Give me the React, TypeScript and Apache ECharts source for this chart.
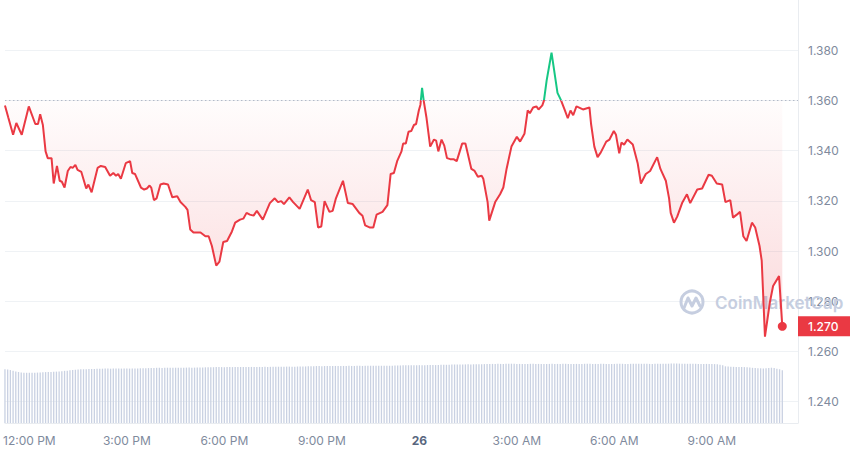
import React, { useEffect, useRef } from "react";
import * as echarts from "echarts";

// minutes since 00:00 on the 25th
const priceTimes: number[] = [
  675, 681, 690, 696, 706, 719, 731, 736, 740, 745,
  750, 754, 761, 765, 771, 776, 780, 785, 791, 796,
  800, 805, 809, 816, 825, 829, 835, 846, 852, 860,
  869, 875, 880, 884, 889, 898, 906, 910, 915, 926,
  932, 937, 942, 945, 950, 955, 962, 968, 976, 984,
  993, 999, 1008, 1012, 1017, 1023, 1036, 1045, 1051, 1057,
  1065, 1071, 1078, 1085, 1094, 1100, 1109, 1115, 1121, 1127,
  1134, 1140, 1151, 1164, 1173, 1179, 1185, 1190, 1200, 1207,
  1219, 1234, 1240, 1247, 1253, 1259, 1265, 1274, 1280, 1286,
  1299, 1308, 1317, 1329, 1335, 1340, 1348, 1355, 1361, 1372,
  1381, 1387, 1393, 1399, 1407, 1410, 1415, 1420, 1425, 1430,
  1434, 1439, 1442, 1445, 1448, 1453, 1460, 1467, 1471, 1475,
  1481, 1486, 1491, 1497, 1503, 1509, 1519, 1525, 1536, 1542,
  1548, 1555, 1558, 1566, 1569, 1580, 1589, 1595, 1601, 1610,
  1620, 1626, 1634, 1640, 1644, 1650, 1656, 1660, 1667, 1670,
  1675, 1684, 1695, 1701, 1708, 1714, 1719, 1724, 1730, 1742,
  1754, 1757, 1763, 1769, 1775, 1785, 1791, 1799, 1803, 1809,
  1813, 1818, 1824, 1834, 1843, 1849, 1858, 1866, 1879, 1885,
  1895, 1901, 1904, 1910, 1916, 1925, 1934, 1940, 1953, 1962,
  1974, 1980, 1989, 1999, 2005, 2014, 2019, 2026, 2032, 2038,
  2044, 2054, 2060, 2068, 2072, 2078, 2087, 2093, 2104, 2110,
];

const prices: number[] = [
  1.358, 1.3533, 1.3463, 1.351, 1.3463, 1.3576, 1.3506, 1.3506, 1.3545, 1.3502,
  1.3397, 1.337, 1.337, 1.3269, 1.3339, 1.328, 1.3276, 1.3253, 1.3319, 1.3335,
  1.3331, 1.3343, 1.3323, 1.3315, 1.3249, 1.3265, 1.3234, 1.3331, 1.3339, 1.3335,
  1.33, 1.3311, 1.33, 1.3307, 1.3288, 1.335, 1.3358, 1.3311, 1.3307, 1.3253,
  1.3245, 1.3249, 1.3261, 1.3253, 1.3203, 1.321, 1.3265, 1.3269, 1.3265, 1.3214,
  1.3218, 1.3195, 1.3176, 1.3164, 1.3086, 1.3074, 1.3074, 1.3059, 1.3059, 1.302,
  1.2942, 1.2958, 1.3036, 1.304, 1.3078, 1.3113, 1.3125, 1.3129, 1.3152, 1.3145,
  1.3141, 1.316, 1.3125, 1.3191, 1.321, 1.3195, 1.3199, 1.3187, 1.3214, 1.3195,
  1.3168, 1.3245, 1.3203, 1.3195, 1.3094, 1.3098, 1.3199, 1.3156, 1.316, 1.321,
  1.328, 1.3191, 1.3187, 1.3152, 1.3141, 1.3102, 1.3094, 1.3094, 1.3145, 1.3156,
  1.3183, 1.3307, 1.3311, 1.3358, 1.3397, 1.3428, 1.3428, 1.3475, 1.3478, 1.3502,
  1.3506, 1.356, 1.3583, 1.365, 1.3599, 1.3533, 1.3416, 1.3444, 1.344, 1.3397,
  1.3444, 1.342, 1.337, 1.3366, 1.3366, 1.3358, 1.3428, 1.3428, 1.3327, 1.3319,
  1.3296, 1.33, 1.3288, 1.3195, 1.3121, 1.3195, 1.3226, 1.3253, 1.3327, 1.3416,
  1.3455, 1.3436, 1.3467, 1.356, 1.3549, 1.3572, 1.3576, 1.3564, 1.358, 1.3599,
  1.368, 1.379, 1.363, 1.3603, 1.3564, 1.3529, 1.356, 1.3541, 1.3576, 1.3564,
  1.3572, 1.3506, 1.3416, 1.3374, 1.3393, 1.3436, 1.3444, 1.3478, 1.3463, 1.3389,
  1.3432, 1.3424, 1.3444, 1.3424, 1.335, 1.3269, 1.3307, 1.3319, 1.3374, 1.3327,
  1.328, 1.321, 1.3152, 1.3113, 1.3137, 1.3191, 1.3226, 1.3191, 1.3245, 1.3249,
  1.3304, 1.33, 1.3269, 1.3265, 1.3195, 1.3203, 1.3133, 1.3145, 1.3156, 1.3059,
  1.304, 1.3113, 1.3094, 1.302, 1.2962, 1.2659, 1.2795, 1.2861, 1.29, 1.27,
];

// 5-minute volume bars (relative units)
const volumeStartMinute = 675;
const volumeStepMinutes = 5;
const volumes: number[] = [
  55.0, 54.8, 54.2, 53.5, 52.6, 52.2,
  51.6, 51.5, 51.4, 51.5, 51.4, 51.5, 51.6, 51.7,
  52.0, 52.1, 52.2, 52.3, 52.4, 52.6, 52.8,
  53.1, 53.4, 53.6, 53.9, 54.2, 54.5, 54.7, 54.9,
  55.0, 55.1, 55.2, 55.3, 55.4, 55.5, 55.5, 55.6,
  55.7, 55.7, 55.6, 55.7, 55.8, 55.7, 55.7, 55.8, 55.8, 55.7, 55.8, 55.9, 55.9, 56.0, 56.0, 56.1, 56.2, 56.3,
  56.4, 56.5, 56.5, 56.4, 56.5, 56.6, 56.5, 56.5, 56.6, 56.6, 56.5, 56.6, 56.7, 56.7, 56.6, 56.7, 56.8, 56.8, 56.9, 57.0, 57.0, 57.1, 57.1, 57.2,
  57.2, 57.2, 57.1, 57.2, 57.3, 57.2, 57.2, 57.3, 57.3, 57.2, 57.3, 57.3, 57.4, 57.3, 57.3, 57.4, 57.4, 57.5,
  57.4, 57.5, 57.5, 57.6, 57.6, 57.5, 57.6, 57.7, 57.7, 57.6, 57.7, 57.8, 57.8, 57.9, 57.9, 58.0, 58.1, 58.2,
  58.3, 58.3, 58.2, 58.3, 58.4, 58.3, 58.3, 58.4, 58.4, 58.3, 58.4, 58.4, 58.5, 58.4, 58.4, 58.5,
  58.5, 58.4, 58.5, 58.5, 58.6, 58.5, 58.5, 58.6, 58.6, 58.7, 58.7, 58.6, 58.7, 58.8, 58.8, 58.9,
  59.0, 59.0, 59.1, 59.0, 59.1, 59.1, 59.2, 59.2, 59.2,
  59.3, 59.3, 59.4, 59.3, 59.4, 59.5, 59.5, 59.6, 59.7,
  59.8, 59.9, 60.0, 60.0, 59.9, 60.0, 60.1, 60.0, 60.1, 60.1, 60.2, 60.2, 60.3, 60.3, 60.4,
  60.5, 60.5, 60.6, 60.5, 60.5, 60.6, 60.6, 60.7, 60.6, 60.5,
  60.5, 60.4, 60.5, 60.5, 60.6, 60.6, 60.5, 60.5, 60.4, 60.4,
  60.5, 60.5, 60.6, 60.5, 60.5, 60.5, 60.6, 60.6, 60.5, 60.5,
  60.4, 60.5, 60.5, 60.5, 60.6, 60.6, 60.6, 60.5, 60.5, 60.5,
  60.6, 60.6, 60.5, 60.5, 60.5, 60.5, 60.6, 60.6, 60.6, 60.5,
  60.5, 60.6, 60.6, 60.6, 60.7, 60.6, 60.6, 60.6, 60.5, 60.5,
  60.6, 60.6, 60.6, 60.7, 60.7, 60.7,
  60.8, 60.8, 60.9, 60.8, 60.7, 60.7, 60.6, 60.6, 60.6, 60.6, 60.5, 60.5, 60.5, 60.5, 60.4, 60.4, 60.3, 60.2,
  59.6, 59.0,
  58.0, 57.8, 57.6, 57.5, 57.4, 57.4, 57.3, 57.2, 57.0, 56.8, 56.5,
  56.2, 56.0, 56.0, 55.9, 56.1, 56.4,
  56.6, 56.4,
  55.6, 55.0, 54.0,
];

const openPrice = 1.36;
const yTickValues: number[] = [1.24, 1.26, 1.28, 1.3, 1.32, 1.34, 1.36, 1.38];
const xTickValues: number[] = [720, 900, 1080, 1260, 1440, 1620, 1800, 1980];
const xTickLabels: string[] = ["12:00 PM", "3:00 PM", "6:00 PM", "9:00 PM", "26", "3:00 AM", "6:00 AM", "9:00 AM"];

const RED = "#ea3943";
const GREEN = "#16c784";
const AXIS_TEXT = "#808a9d";
const GRID = "#eff2f5";
const WATERMARK = "#c6cee0";

export default function App() {
  const ref = useRef<HTMLDivElement>(null);

  useEffect(() => {
    if (!ref.current) return;
    const chart = echarts.init(ref.current, null, { renderer: "svg" });
    const lineData = priceTimes.map((t, i) => [t, prices[i]]);
    const volData = volumes.map((v, i) => [volumeStartMinute + i * volumeStepMinutes, v]);
    const last = lineData[lineData.length - 1];
    const lastPrice = last[1];

    chart.setOption({
      animation: false,
      textStyle: { fontFamily: "Inter, 'Noto Sans', sans-serif" },
      grid: { left: 0, right: 52, top: -10, bottom: 30, containLabel: false },
      xAxis: {
        type: "value",
        min: 675,
        max: 2139,
        axisLine: { show: true, lineStyle: { color: "#e9ecf0", width: 1 } },
        axisTick: { show: false },
        splitLine: { show: false },
        axisLabel: {
          customValues: xTickValues,
          color: AXIS_TEXT,
          fontSize: 12,
          margin: 11,
          formatter: (v: number) => {
            const idx = xTickValues.indexOf(Math.round(v));
            if (idx < 0) return "";
            const lab = xTickLabels[idx];
            return /^\d+$/.test(lab) ? "{day|" + lab + "}" : lab;
          },
          rich: { day: { fontWeight: "bold", color: "#58667e", fontSize: 12 } },
        },
      },
      yAxis: [
        {
          type: "value",
          position: "right",
          min: 1.2315,
          max: 1.4,
          splitNumber: 8,
          axisLine: { show: true, lineStyle: { color: "#e9ecf0", width: 1 } },
          axisTick: { show: false, customValues: yTickValues },
          axisLabel: {
            customValues: yTickValues,
            color: AXIS_TEXT,
            fontSize: 12,
            margin: 10,
            formatter: (v: number) => {
              const k = Math.round(v * 1000);
              return k % 20 === 0 && v < 1.39 ? v.toFixed(3) : "";
            },
          },
          splitLine: { show: true, lineStyle: { color: GRID, width: 1 } },
        },
        {
          type: "value",
          min: 0,
          max: 433,
          show: false,
          splitLine: { show: false },
        },
      ],
      visualMap: {
        type: "piecewise",
        show: false,
        seriesIndex: 1,
        dimension: 1,
        pieces: [
          { gte: 1.0, lt: openPrice, color: RED },
          { gte: openPrice, lte: 2.0, color: GREEN },
        ],
      },
      graphic: [
        {
          type: "circle",
          silent: true,
          z: 1,
          shape: { cx: 692, cy: 302, r: 11 },
          style: { fill: "none", stroke: WATERMARK, lineWidth: 3 },
        },
        {
          type: "polyline",
          silent: true,
          z: 1,
          shape: {
            points: [
              [684, 308],
              [688, 298],
              [692, 306],
              [696, 298],
              [700, 306],
            ],
          },
          style: { fill: "none", stroke: WATERMARK, lineWidth: 3, lineJoin: "round", lineCap: "round" },
        },
        {
          type: "text",
          silent: true,
          z: 1,
          style: {
            text: "CoinMarketCap",
            x: 715,
            y: 303,
            verticalAlign: "middle",
            align: "left",
            font: "600 17px Inter, 'Noto Sans', sans-serif",
            fill: WATERMARK,
          },
        },
      ],
      series: [
        {
          type: "bar",
          yAxisIndex: 1,
          data: volData,
          barWidth: 1.3,
          silent: true,
          itemStyle: { color: "#c9d1e2" },
          z: 1,
        },
        {
          type: "line",
          data: lineData,
          symbol: "none",
          smooth: false,
          lineStyle: { width: 2 },
          areaStyle: {
            origin: openPrice,
            color: {
              type: "linear",
              x: 0,
              y: 93,
              x2: 0,
              y2: 335,
              global: true,
              colorStops: [
                { offset: 0, color: "rgba(234,57,67,0.01)" },
                { offset: 1, color: "rgba(234,57,67,0.28)" },
              ],
            },
          },
          z: 3,
          markLine: {
            silent: true,
            symbol: ["none", "none"],
            data: [
              {
                yAxis: openPrice,
                lineStyle: { type: [1.5, 2.5], color: "#b3bac8", width: 1 },
                label: { show: false },
              },
              {
                yAxis: lastPrice,
                lineStyle: { color: "rgba(255,255,255,0)", width: 0 },
                label: {
                  show: true,
                  position: "end",
                  distance: 0,
                  formatter: () => lastPrice.toFixed(3),
                  backgroundColor: RED,
                  color: "#ffffff",
                  opacity: 1,
                  fontSize: 12,
                  fontWeight: 500,
                  padding: [4, 14, 4, 10],
                },
              },
            ],
          },
          markPoint: {
            silent: true,
            data: [
              {
                coord: last,
                symbol: "circle",
                symbolSize: 9,
                itemStyle: { color: RED },
                label: { show: false },
              },
            ],
          },
        },
      ],
    });

    return () => chart.dispose();
  }, []);

  return (
    <div
      ref={ref}
      style={{ position: "fixed", left: 0, top: 0, width: 850, height: 453, background: "#ffffff" }}
    />
  );
}
